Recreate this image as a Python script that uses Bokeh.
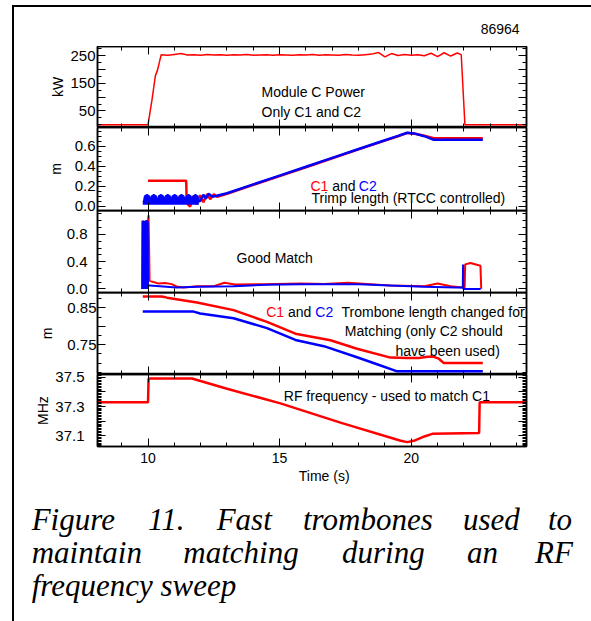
import numpy as np
from bokeh.plotting import figure
from bokeh.layouts import row, column
from bokeh.models import (Range1d, LinearAxis, FixedTicker, Label, Title, Div,
                          CustomJSTickFormatter)
from bokeh.embed import file_html
from bokeh.resources import INLINE

# ---------------- data ----------------
shot_number = "86964"

# Panel 1: Module C power (kW)
power_t = [8.08, 10.00, 10.15, 10.28, 10.36, 10.50, 10.75, 11.00, 11.25, 11.50, 11.75,
           12.00, 12.25, 12.50, 12.75, 13.00, 13.25, 13.50, 13.75, 14.00, 14.25, 14.50, 14.75,
           15.00, 15.25, 15.50, 15.75, 16.00, 16.25, 16.50, 16.75, 17.00, 17.25, 17.50, 17.75,
           18.00, 18.25, 18.50, 18.75, 19.00, 19.25, 19.50, 19.75, 20.00, 20.25, 20.50, 20.75,
           21.00, 21.25, 21.50, 21.75, 21.90, 22.04, 24.38]
power_kw = [0, 0, 90, 178, 198, 254, 252, 255, 258, 253, 254,
            252, 255, 253, 254, 252, 254, 253, 255, 252, 253, 254, 252,
            254, 253, 252, 254, 253, 255, 252, 254, 253, 252, 255, 253,
            252, 254, 256, 262, 246, 258, 251, 255, 252, 254, 250, 259,
            247, 261, 249, 260, 254, 0, 0]

# Panel 2: trimp length (m)
trimp_t_c1 = [10.00, 11.45, 11.47, 11.60, 11.72, 11.85, 11.98, 12.10, 12.24, 12.36, 12.50,
              12.62, 13.00, 14.00, 15.00, 16.00, 17.00, 18.00, 19.00, 19.50, 19.85, 20.10,
              20.50, 20.86, 22.72]
trimp_c1 = [0.255, 0.255, 0.030, -0.005, 0.100, 0.020, 0.110, 0.040, 0.120, 0.070, 0.120,
            0.095, 0.125, 0.214, 0.302, 0.390, 0.479, 0.568, 0.656, 0.700, 0.733, 0.727,
            0.705, 0.680, 0.680]
trimp_band_t = [9.80, 9.83, 9.87, 9.96, 10.05, 10.09, 10.13, 10.22, 10.31, 10.36, 10.40,
                10.49, 10.58, 10.62, 10.66, 10.75, 10.84, 10.88, 10.92, 11.01, 11.10, 11.14,
                11.18, 11.27, 11.36, 11.41, 11.45, 11.54, 11.63, 11.67, 11.71, 11.80, 11.89,
                11.93]
trimp_band_c2 = [0.040,
                 0.045, 0.100, 0.115, 0.100, 0.045, 0.100, 0.115, 0.100,
                 0.045, 0.100, 0.115, 0.100, 0.045, 0.100, 0.115, 0.100,
                 0.045, 0.100, 0.115, 0.100, 0.045, 0.100, 0.115, 0.100,
                 0.045, 0.100, 0.115, 0.100, 0.045, 0.100, 0.115, 0.100,
                 0.045]
trimp_band_floor = 0.015
trimp_t_c2 = [11.93, 12.00, 12.10, 12.20, 12.30, 12.45, 13.00, 14.00, 15.00, 16.00, 17.00,
              18.00, 19.00, 19.50, 19.85, 20.10, 20.50, 20.86, 22.72]
trimp_c2 = [0.045, 0.060, 0.115, 0.075, 0.125, 0.095, 0.130, 0.218, 0.306, 0.394, 0.483,
            0.572, 0.660, 0.703, 0.735, 0.728, 0.700, 0.664, 0.664]

# Panel 3: match quality
refl_t_c1 = [9.78, 9.80, 9.86, 9.92, 9.98, 10.02, 10.06, 10.12, 10.40, 10.65, 10.90, 11.12,
             11.35, 11.86, 12.50, 12.90, 13.30, 14.40, 15.80, 16.70, 17.60, 18.60, 19.20,
             20.50, 21.00, 21.50, 21.94, 22.03, 22.05, 22.25, 22.63, 22.66]
refl_c1 = [0.00, 1.00, 0.95, 1.00, 0.92, 1.08, 0.12, 0.11, 0.08, 0.085, 0.07, 0.03,
           0.02, 0.04, 0.04, 0.09, 0.065, 0.067, 0.078, 0.07, 0.09, 0.065, 0.05,
           0.04, 0.08, 0.04, 0.02, 0.02, 0.36, 0.38, 0.34, 0.00]
refl_t_c2 = [9.78, 9.79, 9.80, 9.81, 9.82, 9.83, 9.84, 9.85, 9.86, 9.87, 9.88, 9.89, 9.90,
             9.91, 9.92, 9.93, 9.94, 9.95, 9.96, 9.97, 9.98, 9.99, 10.00, 10.06, 10.57,
             11.08, 11.90, 13.25, 14.50, 15.80, 18.00, 19.20, 20.50, 21.70, 21.96, 21.97,
             21.98, 22.64]
refl_c2 = [0.00, 1.00, 0.00, 0.98, 0.00, 1.00, 0.00, 0.97, 0.00, 1.00, 0.00, 0.99, 0.00,
           1.00, 0.00, 0.98, 0.00, 1.01, 0.00, 0.99, 0.00, 1.00, 0.05, 0.05, 0.035,
           0.02, 0.03, 0.04, 0.06, 0.067, 0.069, 0.05, 0.03, 0.02, 0.02, 0.357,
           0.00, 0.00]

# Panel 4: trombone length (m)
tromb_t_c1 = [9.80, 10.53, 10.72, 11.86, 13.25, 14.52, 15.60, 16.93, 17.94, 19.21, 19.85,
              20.30, 20.61, 20.86, 21.05, 21.24, 22.72]
tromb_c1 = [0.881, 0.881, 0.878, 0.865, 0.844, 0.812, 0.780, 0.762, 0.739, 0.715, 0.714,
            0.714, 0.717, 0.717, 0.712, 0.700, 0.700]
tromb_t_c2 = [9.80, 11.73, 11.98, 13.25, 14.52, 15.60, 16.68, 17.94, 18.70, 19.44, 22.72]
tromb_c2 = [0.840, 0.840, 0.835, 0.822, 0.795, 0.763, 0.746, 0.716, 0.697, 0.678, 0.678]

# Panel 5: RF frequency (MHz)
rf_t = [8.08, 10.00, 10.02, 11.67, 13.00, 15.03, 17.31, 19.60, 19.85, 20.10, 20.50, 20.80,
        22.58, 22.60, 24.38]
rf_mhz = [37.329, 37.329, 37.493, 37.493, 37.422, 37.322, 37.190, 37.065, 37.056, 37.065,
          37.095, 37.113, 37.118, 37.329, 37.329]

# tick labels
x_major = [10, 15, 20]
kw_major = [50, 100, 150, 200, 250]
kw_labeled = [50, 150, 250]
trimp_major = [0.0, 0.2, 0.4, 0.6]
refl_major = [0.0, 0.4, 0.8]
tromb_major = [0.75, 0.80, 0.85]
tromb_labeled = [0.75, 0.85]
rf_major = [37.1, 37.2, 37.3, 37.4, 37.5]
rf_labeled = [37.1, 37.3, 37.5]

caption_lines = [
    ["Figure", "11.", "Fast", "trombones", "used", "to"],
    ["maintain", "matching", "during", "an", "RF"],
    ["frequency sweep"],
]

# ---------------- layout / style ----------------
RED = "#ff0000"
BLUE = "#0000ff"
SANS = "Liberation Sans"
W = 577            # width of main column (page is 591, left strip 14)
LB = 14
FL, FR = 97, 526   # frame left / right in page pixels
X0, X1 = 8.08, 24.38
EXT = 8            # overlap band so that edge tick labels are not cut

xr = Range1d(X0, X1)


def tx(px):
    return X0 + (px - FL) * (X1 - X0) / (FR - FL)


def ty(py, top, bottom, y0, y1):
    return y1 - (py - top) * (y1 - y0) / (bottom - top)


def frange(a, b, s):
    return [round(v, 4) for v in np.arange(a, b + s / 2, s)]


def style_axis(ax):
    ax.major_tick_in = 8
    ax.major_tick_out = 0
    ax.minor_tick_in = 4
    ax.minor_tick_out = 0
    ax.axis_line_color = "black"
    ax.axis_line_width = 1.5
    ax.major_tick_line_color = "black"
    ax.minor_tick_line_color = "black"
    ax.major_tick_line_width = 1
    ax.minor_tick_line_width = 1


def blank(ax):
    ax.formatter = CustomJSTickFormatter(code="return ''")
    ax.major_label_text_font_size = "0px"
    ax.major_label_standoff = 0


def lab_fmt(labeled, d):
    return CustomJSTickFormatter(args=dict(labeled=labeled, d=d), code="""
        for (const v of labeled) { if (Math.abs(v - tick) < 1e-6) return tick.toFixed(d); }
        return '';
    """)


def panel(top, bottom, y0, y1, major, minor, labeled, d, ylabel, lstand=2, tstand=10,
          xlabels=False, bt=0, bb=0, overlap=0):
    p = figure(width=W, height=(bottom - top) + bt + bb, x_range=xr, y_range=Range1d(y0, y1),
               x_axis_type=None, y_axis_type=None, toolbar_location=None,
               output_backend="svg", min_border_left=FL - LB, min_border_right=LB + W - FR,
               min_border_top=bt, min_border_bottom=bb,
               margin=(-overlap, 0, 0, 0))
    p.outline_line_color = "black"
    p.outline_line_width = 1.5
    p.background_fill_alpha = 0
    p.border_fill_alpha = 0
    left = LinearAxis(ticker=FixedTicker(ticks=major, minor_ticks=minor),
                      formatter=lab_fmt(labeled, d))
    style_axis(left)
    left.major_label_text_font = SANS
    left.major_label_text_font_size = "15px"
    left.major_label_text_color = "black"
    left.major_label_standoff = tstand
    if ylabel:
        left.axis_label = ylabel
        left.axis_label_text_font = SANS
        left.axis_label_text_font_size = "14px"
        left.axis_label_text_font_style = "normal"
        left.axis_label_text_color = "black"
        left.axis_label_standoff = lstand
    p.add_layout(left, "left")
    right = LinearAxis(ticker=FixedTicker(ticks=major, minor_ticks=minor))
    style_axis(right)
    blank(right)
    p.add_layout(right, "right")
    x_minor = list(range(8, 25))
    topax = LinearAxis(ticker=FixedTicker(ticks=x_major, minor_ticks=x_minor))
    style_axis(topax)
    blank(topax)
    p.add_layout(topax, "above")
    botax = LinearAxis(ticker=FixedTicker(ticks=x_major, minor_ticks=x_minor))
    style_axis(botax)
    if xlabels:
        botax.major_label_text_font = SANS
        botax.major_label_text_font_size = "14px"
        botax.major_label_text_color = "black"
        botax.major_label_standoff = 6
    else:
        blank(botax)
    p.add_layout(botax, "below")
    return p


def add_text(p, x, y, text, color="black", align="left"):
    p.add_layout(Label(x=x, y=y, text=text, text_color=color, text_align=align,
                       text_baseline="alphabetic", text_font=SANS, text_font_size="14px",
                       text_font_style="normal"))


# ---- left border strip (HTML) ----
left_div = Div(width=LB, height=621, margin=(0, 0, 0, 0),
               text='<div style="padding:5px 0 0 12px;margin:0;">'
                    '<div style="width:2px;height:616px;background:#000;margin:0;"></div></div>')

# ---- top strip with border line and shot number (HTML) ----
top_div = Div(width=W, height=46, margin=(0, 0, 0, 0),
              text='<div style="position:relative;width:%dpx;height:46px;margin:0;">'
                   '<div style="position:absolute;left:0;top:5px;width:%dpx;height:2px;'
                   'background:#000;"></div>'
                   '<div style="position:absolute;left:%.1fpx;top:%.1fpx;white-space:nowrap;'
                   "font-family:'Liberation Sans';font-size:14px;line-height:16px;color:#000;\">"
                   '%s</div></div>' % (W, W, 480.7 - LB, 34 - 12.85, shot_number))

# ---- panel 1 ----
T1, B1, Y10, Y11 = 46, 127, -10, 283.6
p1 = panel(T1, B1, Y10, Y11, kw_major, frange(0, 275, 25), kw_labeled, 0, "kW",
           lstand=1, tstand=2)
p1.line(power_t, power_kw, color=RED, line_width=1.5)
add_text(p1, tx(261), ty(91.7, T1, B1, Y10, Y11), "Module C Power")
add_text(p1, tx(261), ty(111, T1, B1, Y10, Y11), "Only C1 and C2")

# ---- panel 2 ----
T2, B2, Y20, Y21 = 127, 210, -0.043, 0.787
p2 = panel(T2, B2, Y20, Y21, trimp_major, frange(-0.05, 0.8, 0.05), trimp_major, 1, "m",
           lstand=8, tstand=2, bb=EXT)
p2.line(trimp_t_c1, trimp_c1, color=RED, line_width=2.5)
p2.varea(x=trimp_band_t, y1=trimp_band_floor, y2=trimp_band_c2, fill_color=BLUE)
p2.line(trimp_band_t, trimp_band_c2, color=BLUE, line_width=1.5)
p2.line(trimp_t_c2, trimp_c2, color=BLUE, line_width=2.5)
yb = ty(185.5, T2, B2, Y20, Y21)
add_text(p2, tx(310), yb, "C1", color=RED)
add_text(p2, tx(331.7), yb, "and")
add_text(p2, tx(358.3), yb, "C2", color=BLUE)
add_text(p2, tx(311), ty(197.5, T2, B2, Y20, Y21), "Trimp length (RTCC controlled)")

# ---- panel 3 ----
T3, B3, Y30, Y31 = 210, 292, -0.053, 1.151
p3 = panel(T3, B3, Y30, Y31, refl_major, frange(0.0, 1.1, 0.1), refl_major, 1, None,
           tstand=10, bb=EXT, overlap=EXT)
p3.line(refl_t_c1, refl_c1, color=RED, line_width=2)
p3.line(refl_t_c2, refl_c2, color=BLUE, line_width=2)
add_text(p3, tx(236), ty(257, T3, B3, Y30, Y31), "Good Match")

# ---- panel 4 ----
T4, B4, Y40, Y41 = 292, 374, 0.669, 0.892
p4 = panel(T4, B4, Y40, Y41, tromb_major, frange(0.675, 0.9, 0.025), tromb_labeled, 2, "m",
           lstand=9, tstand=1, overlap=EXT)
p4.line(tromb_t_c1, tromb_c1, color=RED, line_width=2.5)
p4.line(tromb_t_c2, tromb_c2, color=BLUE, line_width=2.5)
yb = ty(311, T4, B4, Y40, Y41)
add_text(p4, tx(265.7), yb, "C1", color=RED)
add_text(p4, tx(287.5), yb, "and")
add_text(p4, tx(314.8), yb, "C2", color=BLUE)
add_text(p4, tx(341), yb, "Trombone length changed for")
add_text(p4, tx(344.3), ty(330.7, T4, B4, Y40, Y41), "Matching (only C2 should")
add_text(p4, tx(499.3), ty(350.5, T4, B4, Y40, Y41), "have been used)", align="right")

# ---- panel 5 ----
T5, B5, Y50, Y51 = 374, 446, 37.026, 37.52
p5 = panel(T5, B5, Y50, Y51, rf_major, frange(37.03, 37.52, 0.01), rf_labeled, 1, "MHz",
           lstand=1, tstand=13, xlabels=True, bt=EXT, bb=44, overlap=EXT)
p5.line(rf_t, rf_mhz, color=RED, line_width=2.5)
add_text(p5, tx(283.3), ty(395, T5, B5, Y50, Y51), "RF frequency - used to match C1")
p5.add_layout(Title(text="Time  (s)", align="left", offset=298.3 - FL, standoff=0,
                    text_font=SANS, text_font_size="14px", text_font_style="normal",
                    text_color="black"), "below")

# ---- caption (HTML, justified words placed as measured) ----
word_x = [[31.7, 148, 216.7, 303, 463, 548],
          [31.7, 183.3, 342, 467, 535],
          [31.7]]
base_y = [530, 563, 596]
CAP_TOP = 490
spans = []
for words, xs, by in zip(caption_lines, word_x, base_y):
    for w_, x_ in zip(words, xs):
        spans.append('<div style="position:absolute;left:%.1fpx;top:%.1fpx;white-space:nowrap;'
                     "font-family:'Liberation Serif';font-style:italic;font-size:31px;"
                     'line-height:34px;color:#000;">%s</div>'
                     % (x_ - LB, by - CAP_TOP - 27.5, w_))
cap_div = Div(width=W, height=621 - CAP_TOP, margin=(0, 0, 0, 0),
              text='<div style="position:relative;width:%dpx;height:%dpx;margin:0;">%s</div>'
                   % (W, 621 - CAP_TOP, "".join(spans)))

layout = row(left_div, column(top_div, p1, p2, p3, p4, p5, cap_div))

open("out.html", "w").write(file_html(layout, INLINE))
